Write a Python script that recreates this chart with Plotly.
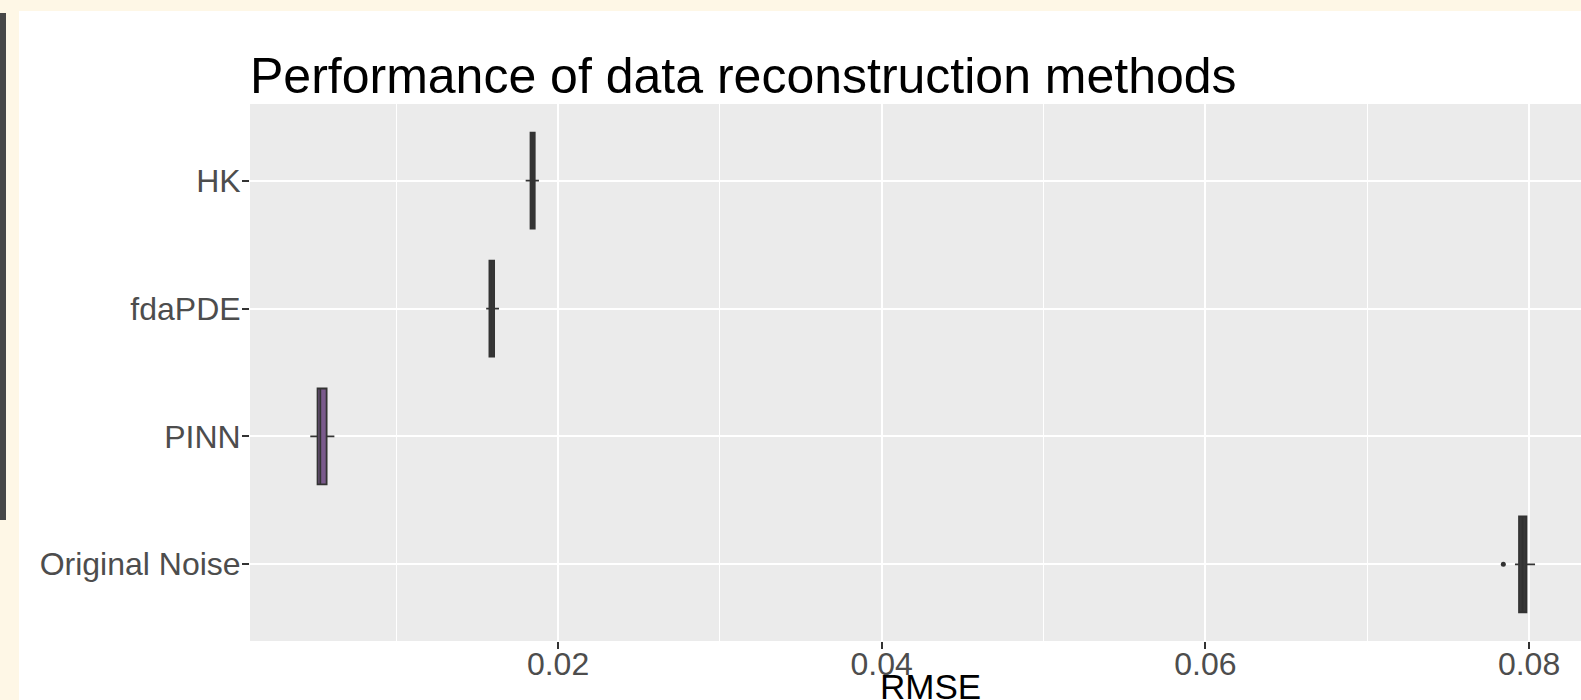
import plotly.graph_objects as go

# ---- data ----
methods = ["HK", "fdaPDE", "PINN", "Original Noise"]
q1 = [0.01830, 0.01576, 0.00514, 0.07938]
median = [0.01843, 0.01590, 0.00531, 0.07960]
q3 = [0.01856, 0.01605, 0.00570, 0.07984]
lower_whisker = [0.01800, 0.01556, 0.00469, 0.07913]
upper_whisker = [0.01882, 0.01635, 0.00618, 0.08037]
outlier_method = ["Original Noise"]
outlier_value = [0.07841]
fills = ["#3a3a3a", "#3a3a3a", "#7A5A8C", "#3a3a3a"]

x_ticks = [0.02, 0.04, 0.06, 0.08]
x_tick_text = ["0.02", "0.04", "0.06", "0.08"]

fig = go.Figure()
for i, m in enumerate(methods):
    fig.add_trace(go.Box(
        y=[m], q1=[q1[i]], median=[median[i]], q3=[q3[i]],
        lowerfence=[lower_whisker[i]], upperfence=[upper_whisker[i]],
        orientation="h", width=0.75, whiskerwidth=0,
        fillcolor=fills[i], line=dict(color="#333333", width=1.8),
        boxpoints=False, showlegend=False, hoverinfo="skip",
    ))

fig.add_trace(go.Scatter(
    x=outlier_value, y=outlier_method, mode="markers",
    marker=dict(color="#333333", size=5), showlegend=False, hoverinfo="skip",
))

L, T, B = 250, 104, 59
W, H = 1581, 700
pw = W - L
ph = H - T - B

def px(xp):
    return (xp - L) / pw

def py(yp):
    return (H - B - yp) / ph

CREAM = "#FEF7E6"
shapes = [
    # cream top band
    dict(type="rect", xref="paper", yref="paper", layer="below",
         x0=px(-5), x1=px(1600), y0=py(11), y1=py(-5),
         fillcolor=CREAM, line=dict(width=0)),
    # cream left band
    dict(type="rect", xref="paper", yref="paper", layer="below",
         x0=px(-5), x1=px(19), y0=py(720), y1=py(-5),
         fillcolor=CREAM, line=dict(width=0)),
    # dark side bar
    dict(type="rect", xref="paper", yref="paper", layer="below",
         x0=px(-5), x1=px(6), y0=py(520), y1=py(13),
         fillcolor="#474747", line=dict(width=0)),
]

fig.update_layout(
    width=W, height=H,
    margin=dict(l=L, r=0, t=T, b=B),
    paper_bgcolor="white",
    plot_bgcolor="#EBEBEB",
    boxmode="overlay",
    shapes=shapes,
    font=dict(family="Liberation Sans, Arial, sans-serif"),
    title=dict(text="Performance of data reconstruction methods",
               x=px(250), xanchor="left", xref="paper",
               y=(H - 58) / H, yanchor="top", yref="container",
               font=dict(size=50, color="black")),
    xaxis=dict(range=[0.000966, 0.08321], tickvals=x_ticks, ticktext=x_tick_text,
               showgrid=True, gridcolor="white", gridwidth=2,
               minor=dict(dtick=0.01, tick0=0, showgrid=True, gridcolor="white", gridwidth=1),
               ticks="outside", ticklen=7, tickwidth=1.5, tickcolor="#333333",
               ticklabelstandoff=-12,
               tickfont=dict(size=32, color="#4D4D4D"), zeroline=False,
               showline=False),
    yaxis=dict(type="category", categoryorder="array",
               categoryarray=list(reversed(methods)), range=[-0.6, 3.6],
               showgrid=True, gridcolor="white", gridwidth=2,
               ticks="outside", ticklen=7, tickwidth=1.5, tickcolor="#333333",
               ticklabelstandoff=-5,
               tickfont=dict(size=32, color="#4D4D4D"), zeroline=False,
               showline=False),
    annotations=[dict(text="RMSE", xref="paper", yref="paper",
                      x=px(930), y=py(665), xanchor="center", yanchor="top",
                      showarrow=False, font=dict(size=35, color="black"))],
)

fig.write_html("out.html", config={"displayModeBar": False},
               post_script="document.body.style.margin='0px';document.body.style.overflow='hidden';")
